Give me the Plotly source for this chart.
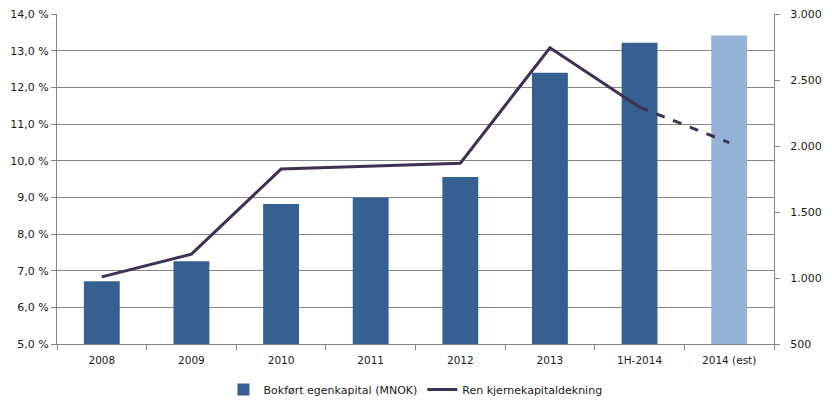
import plotly.graph_objects as go

categories = ["2008", "2009", "2010", "2011", "2012", "2013", "1H-2014", "2014 (est)"]
equity_mnok = [975, 1127, 1560, 1608, 1765, 2555, 2783, 2837]
cet1_ratio = [6.83, 7.45, 9.77, 9.86, 9.93, 13.08, 11.46, 10.49]
bar_colors = ["#366092"] * 7 + ["#95B3D7"]
line_color = "#3F3151"
grid_color = "#868686"
font_family = "Verdana, DejaVu Sans, sans-serif"

fig = go.Figure()
fig.add_trace(go.Bar(
    x=categories, y=equity_mnok, name="Bokført egenkapital (MNOK)",
    marker=dict(color=bar_colors, line=dict(width=0)), width=0.4,
    yaxis="y", legendrank=1,
))
fig.add_trace(go.Scatter(
    x=categories[:7], y=cet1_ratio[:7], name="Ren kjernekapitaldekning",
    mode="lines", line=dict(color=line_color, width=3), yaxis="y2", legendrank=2,
))
fig.add_trace(go.Scatter(
    x=categories[6:], y=cet1_ratio[6:], name="Ren kjernekapitaldekning",
    mode="lines", line=dict(color=line_color, width=3, dash="dash"), yaxis="y2",
    showlegend=False,
))

fig.update_layout(
    width=832, height=409,
    margin=dict(l=57, r=58, t=14, b=65, autoexpand=False),
    paper_bgcolor="white", plot_bgcolor="white",
    separators=",.",
    font=dict(family=font_family, size=11, color="#1a1a1a"),
    bargap=0.6,
    xaxis=dict(
        type="category", showgrid=False, showline=True, linecolor=grid_color, linewidth=1,
        ticks="outside", tickson="boundaries", ticklen=5, tickcolor=grid_color,
        tickfont=dict(size=10.5), ticklabelstandoff=6,
    ),
    yaxis=dict(
        side="right", range=[500, 3000], dtick=500, tickformat=",d",
        showgrid=False, showline=True, linecolor=grid_color, linewidth=1,
        ticks="outside", ticklen=5, tickcolor=grid_color, zeroline=False,
        tickfont=dict(size=11), ticklabelstandoff=8,
    ),
    yaxis2=dict(
        overlaying="y", side="left", range=[5, 14], dtick=1, tickformat=".1f",
        ticksuffix=" %", showgrid=True, gridcolor=grid_color, gridwidth=1,
        showline=True, linecolor=grid_color, linewidth=1,
        ticks="outside", ticklen=5, tickcolor=grid_color, zeroline=False,
        tickfont=dict(size=11),
    ),
    legend=dict(
        orientation="h", x=0.5, xanchor="center", y=-0.138, yanchor="middle",
        font=dict(size=11), traceorder="normal", itemwidth=30,
    ),
)

fig.write_html("out.html")
